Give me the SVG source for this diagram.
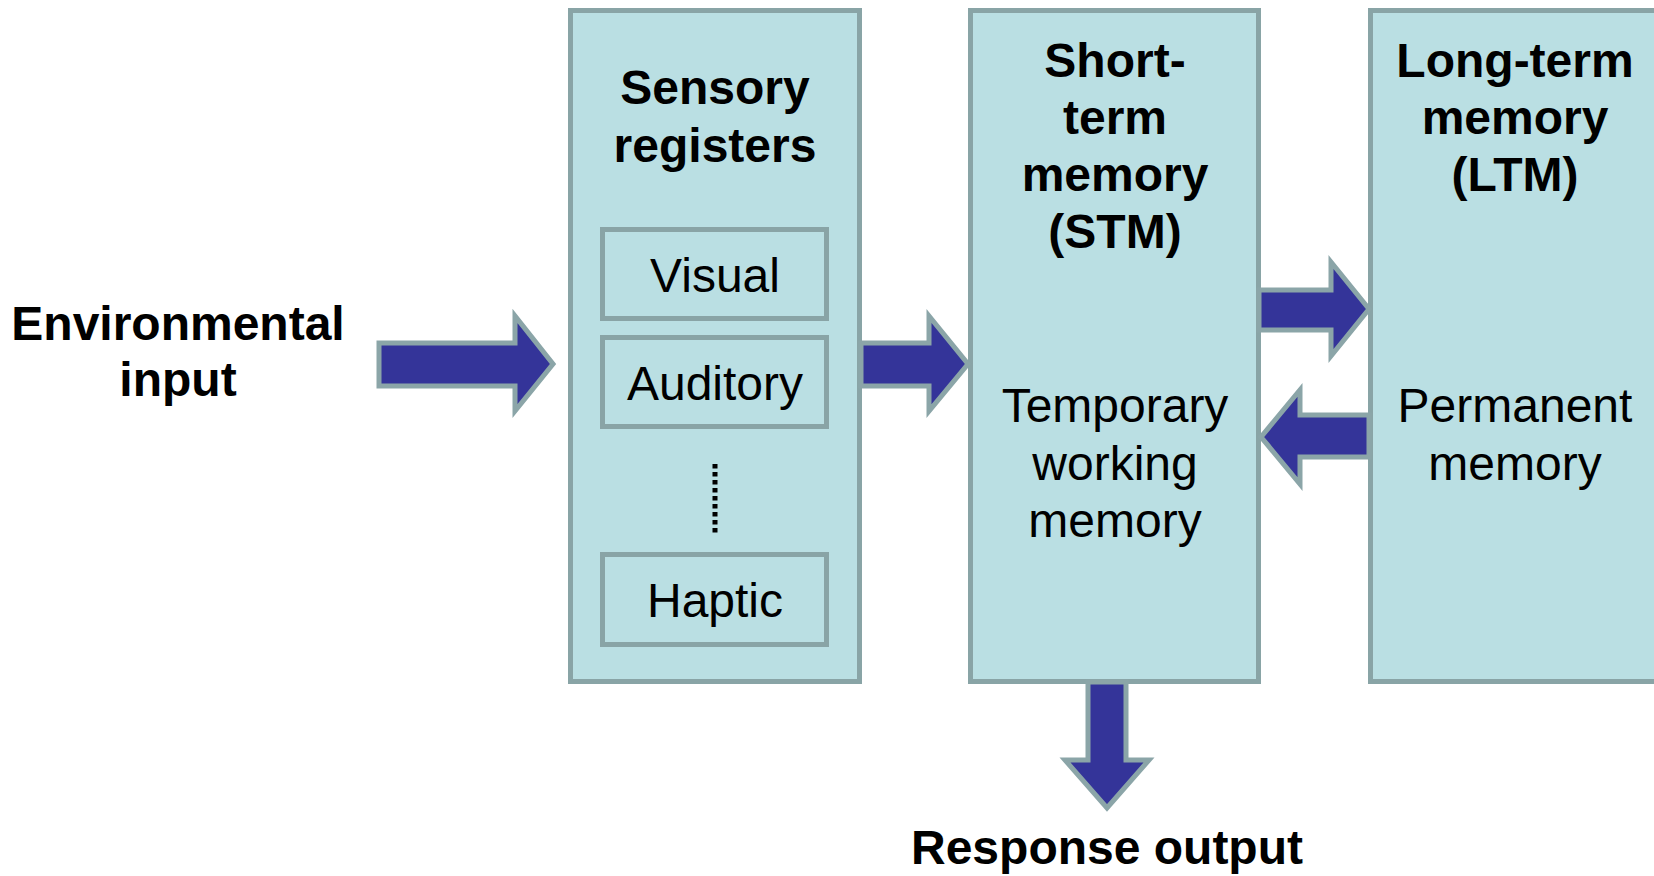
<svg xmlns="http://www.w3.org/2000/svg" width="1654" height="876" viewBox="0 0 1654 876">
<style>
.box{fill:#BADFE3;stroke:#89A4A6;stroke-width:5}
.arr{fill:#343499;stroke:#8BA5A8;stroke-width:5;stroke-linejoin:miter}
text{font-family:"Liberation Sans",Arial,sans-serif;font-size:48px;fill:#000;text-anchor:middle}
.b{font-weight:bold}
</style>
<rect width="1654" height="876" fill="#fff"/>
<g id="env">
<text class="b" x="178" y="340">Environmental</text>
<text class="b" x="178" y="396">input</text>
</g>
<g id="sensory">
<rect class="box" x="570.5" y="10.5" width="289" height="671"/>
<text class="b" x="715" y="104">Sensory</text>
<text class="b" x="715" y="162">registers</text>
<g id="visual">
<rect class="box" x="602.5" y="229.5" width="224" height="89"/>
<text x="715" y="292">Visual</text>
</g>
<g id="auditory">
<rect class="box" x="602.5" y="337.5" width="224" height="89"/>
<text x="715" y="400">Auditory</text>
</g>
<line x1="715" y1="464" x2="715" y2="533" stroke="#000" stroke-width="5" stroke-dasharray="4.5 3.5"/>
<g id="haptic">
<rect class="box" x="602.5" y="554.5" width="224" height="90"/>
<text x="715" y="617">Haptic</text>
</g>
</g>
<g id="stm">
<rect class="box" x="970.5" y="10.5" width="288" height="671"/>
<text class="b" x="1115" y="77">Short-</text>
<text class="b" x="1115" y="134">term</text>
<text class="b" x="1115" y="191">memory</text>
<text class="b" x="1115" y="248">(STM)</text>
<text x="1115" y="422">Temporary</text>
<text x="1115" y="480">working</text>
<text x="1115" y="537">memory</text>
</g>
<g id="ltm">
<rect class="box" x="1370.5" y="10.5" width="300" height="671"/>
<text class="b" x="1515" y="77">Long-term</text>
<text class="b" x="1515" y="134">memory</text>
<text class="b" x="1515" y="191">(LTM)</text>
<text x="1515" y="422">Permanent</text>
<text x="1515" y="480">memory</text>
</g>
<g id="response">
<text class="b" x="1107" y="864">Response output</text>
</g>
<g id="connectors">
<path class="arr" d="M379,343 H515 V316 L553,364 L515,411 V386 H379 Z"/>
<path class="arr" d="M861,343 H929 V316 L968,364 L929,411 V386 H861 Z"/>
<path class="arr" d="M1259,290 H1331 V262 L1369,309 L1331,356 V330 H1259 Z"/>
<path class="arr" d="M1369,415 H1300 V390 L1261,437 L1300,484 V457 H1369 Z"/>
<path class="arr" d="M1088,682 V760 H1065 L1107,808 L1149,760 H1126 V682 Z"/>
</g>
</svg>
